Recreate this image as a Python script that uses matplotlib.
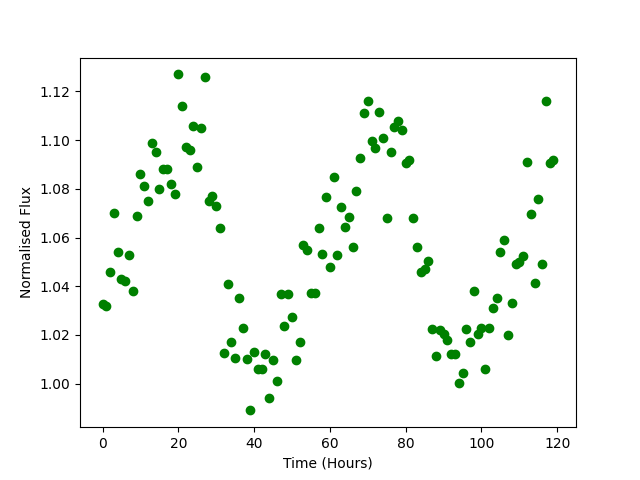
import matplotlib
matplotlib.use("Agg")
import matplotlib.pyplot as plt
import numpy as np

time_hours = list(range(120))
flux = [1.0325, 1.032, 1.046, 1.070, 1.054, 1.043, 1.042, 1.053, 1.038, 1.069,
        1.086, 1.081, 1.075, 1.099, 1.095, 1.080, 1.088, 1.088, 1.082, 1.078,
        1.127, 1.114, 1.097, 1.096, 1.106, 1.089, 1.105, 1.126, 1.075, 1.077,
        1.073, 1.064, 1.0125, 1.041, 1.017, 1.0107, 1.035, 1.023, 1.010, 0.989,
        1.013, 1.006, 1.006, 1.0123, 0.994, 1.0095, 1.001, 1.037, 1.0235, 1.037,
        1.0275, 1.0095, 1.017, 1.057, 1.0547, 1.0374, 1.0374, 1.064, 1.0534, 1.0765,
        1.048, 1.085, 1.053, 1.0727, 1.0645, 1.0686, 1.056, 1.079, 1.0925, 1.111,
        1.116, 1.0995, 1.0966, 1.1115, 1.101, 1.068, 1.095, 1.1056, 1.1077, 1.104,
        1.0908, 1.092, 1.068, 1.056, 1.046, 1.047, 1.0505, 1.0226, 1.0115, 1.022,
        1.0205, 1.018, 1.0123, 1.012, 1.0004, 1.0045, 1.0226, 1.017, 1.038, 1.0205,
        1.023, 1.006, 1.023, 1.031, 1.035, 1.054, 1.059, 1.020, 1.033, 1.049,
        1.050, 1.0526, 1.091, 1.0695, 1.0415, 1.076, 1.049, 1.116, 1.0905, 1.0917]

fig, ax = plt.subplots(figsize=(6.4, 4.8), dpi=100)
ax.plot(time_hours, flux, 'o', color='green')
ax.set_xlabel('Time (Hours)')
ax.set_ylabel('Normalised Flux')
fig.savefig('out.png')
